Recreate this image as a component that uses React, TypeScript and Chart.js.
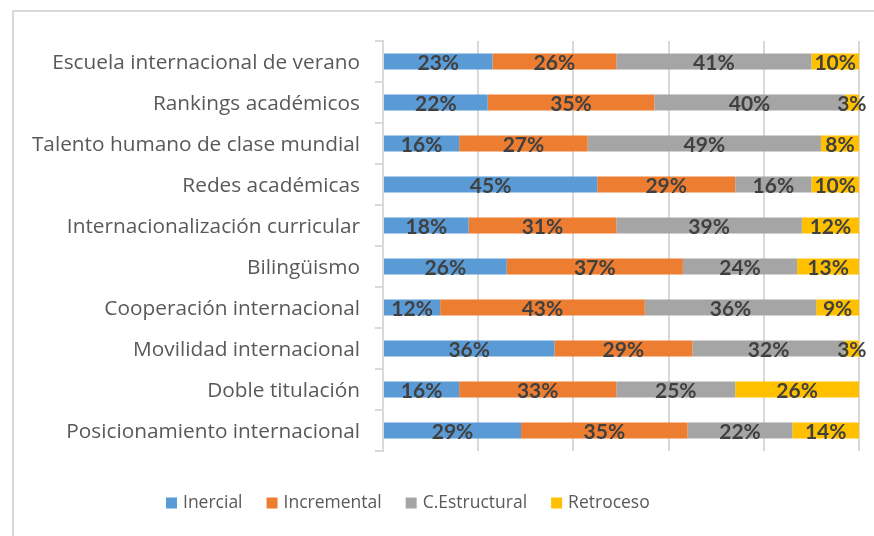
import React, { useEffect, useRef } from "react";
import { Chart, registerables } from "chart.js";

Chart.register(...registerables);

const categories = [
  "Escuela internacional de verano",
  "Rankings académicos",
  "Talento humano de clase mundial",
  "Redes académicas",
  "Internacionalización curricular",
  "Bilingüismo",
  "Cooperación internacional",
  "Movilidad internacional",
  "Doble titulación",
  "Posicionamiento internacional",
];
const seriesNames = ["Inercial", "Incremental", "C.Estructural", "Retroceso"];
const inercial = [23, 22, 16, 45, 18, 26, 12, 36, 16, 29];
const incremental = [26, 35, 27, 29, 31, 37, 43, 29, 33, 35];
const estructural = [41, 40, 49, 16, 39, 24, 36, 32, 25, 22];
const retroceso = [10, 3, 8, 10, 12, 13, 9, 3, 26, 14];
const colors = ["#5B9BD5", "#ED7D31", "#A5A5A5", "#FFC000"];

const LABEL_FONT = "Lato";
const TEXT_FONT = "'Open Sans'";

const dataLabelPlugin = {
  id: "dataLabels",
  afterDatasetsDraw(chart: any) {
    const ctx = chart.ctx;
    ctx.save();
    ctx.font = `bold 21px ${LABEL_FONT}`;
    ctx.fillStyle = "#404040";
    ctx.textAlign = "center";
    ctx.textBaseline = "middle";
    chart.data.datasets.forEach((ds: any, di: number) => {
      const meta = chart.getDatasetMeta(di);
      meta.data.forEach((el: any, i: number) => {
        const p = el.getProps(["x", "y", "base"], true);
        const cx = (p.x + p.base) / 2;
        ctx.fillText(`${ds.data[i]}%`, cx, p.y + 2);
      });
    });
    ctx.restore();
  },
};

const legendPlugin = {
  id: "customLegend",
  afterDraw(chart: any) {
    const ctx = chart.ctx;
    ctx.save();
    ctx.font = `17.5px ${TEXT_FONT}`;
    ctx.textBaseline = "middle";
    ctx.textAlign = "left";
    let x = 166;
    const y = 503;
    chart.data.datasets.forEach((ds: any) => {
      ctx.fillStyle = ds.backgroundColor;
      ctx.fillRect(x, y - 5.5, 11, 11);
      ctx.fillStyle = "#595959";
      const tx = x + 17;
      ctx.fillText(ds.label, tx, y);
      x = tx + ctx.measureText(ds.label).width + 24;
    });
    ctx.restore();
  },
};

export default function App() {
  const canvasRef = useRef<HTMLCanvasElement | null>(null);

  useEffect(() => {
    if (!canvasRef.current) return;
    const values = [inercial, incremental, estructural, retroceso];
    const chart = new Chart(canvasRef.current, {
      type: "bar",
      data: {
        labels: categories,
        datasets: seriesNames.map((name, i) => ({
          label: name,
          data: values[i],
          backgroundColor: colors[i],
          borderWidth: 0,
          barPercentage: 0.39,
          categoryPercentage: 1,
        })),
      },
      options: {
        indexAxis: "y",
        animation: false,
        responsive: false,
        maintainAspectRatio: false,
        layout: { padding: { top: 41, right: 15, bottom: 85, left: 0 } },
        plugins: {
          legend: { display: false },
          tooltip: { enabled: false },
        },
        scales: {
          x: {
            stacked: true,
            min: 0,
            max: 100,
            ticks: { display: false, stepSize: 20 },
            grid: { color: "#d9d9d9", lineWidth: 2, drawTicks: false },
            border: { display: false },
            afterFit(scale: any) {
              scale.height = 0;
            },
          },
          y: {
            stacked: true,
            ticks: {
              color: "#595959",
              font: { family: TEXT_FONT, size: 20.8 },
              padding: 15,
              labelOffset: 2,
            },
            grid: {
              drawOnChartArea: false,
              drawTicks: true,
              tickLength: 8,
              color: "#d9d9d9",
              lineWidth: 2,
              offset: true,
            },
            border: { display: true, color: "#d9d9d9", width: 2 },
            afterFit(scale: any) {
              scale.width = 383;
            },
          },
        },
      },
      plugins: [dataLabelPlugin, legendPlugin],
    } as any);
    return () => chart.destroy();
  }, []);

  return (
    <div
      style={{
        position: "fixed",
        left: 0,
        top: 0,
        width: 874,
        height: 536,
        background: "#fff",
        overflow: "hidden",
      }}
    >
      <div
        style={{
          position: "absolute",
          left: 12,
          top: 10,
          width: 900,
          height: 600,
          border: "2px solid #d9d9d9",
          boxSizing: "border-box",
        }}
      />
      <canvas
        ref={canvasRef}
        width={874}
        height={536}
        style={{ position: "absolute", left: 0, top: 0, width: 874, height: 536 }}
      />
    </div>
  );
}
